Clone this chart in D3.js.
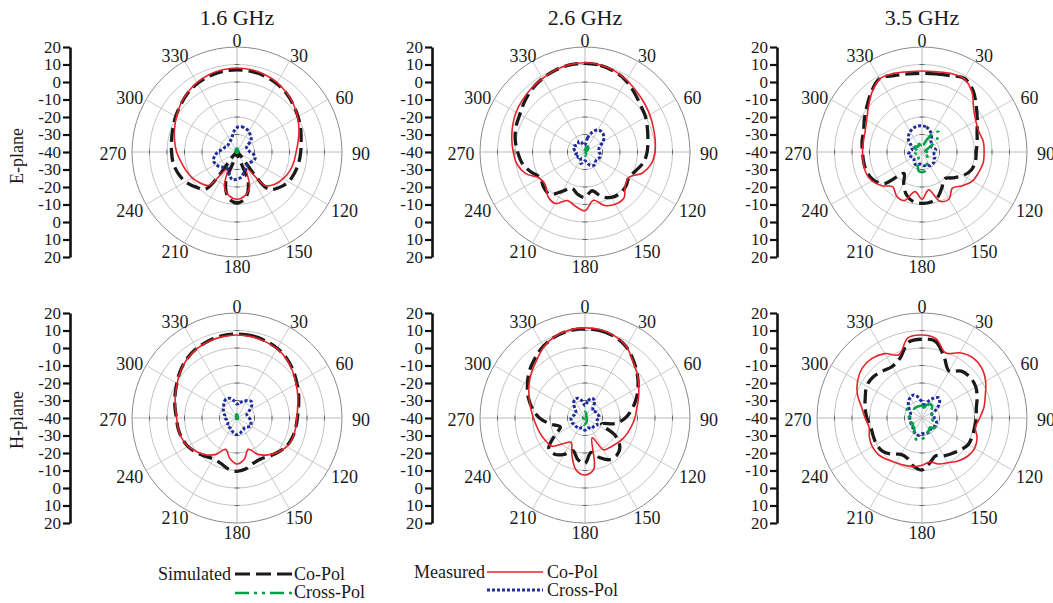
<!DOCTYPE html>
<html><head><meta charset="utf-8">
<script src="https://cdn.jsdelivr.net/npm/d3@7"></script>
<style>
html,body{margin:0;padding:0;background:#fff;}
svg{display:block;}
text{font-family:"Liberation Serif","Times New Roman",Times,serif;fill:#1a1a1a;}
</style></head>
<body>
<svg id="chart" width="1053" height="603"></svg>
<script>
// ---------- data ----------
const angles = [0,10,20,30,40,50,60,70,80,90,100,110,120,130,140,150,160,170,180,190,200,210,220,230,240,250,260,270,280,290,300,310,320,330,340,350];
const angleLabels = [0,30,60,90,120,150,180,210,240,270,300,330];
const tickLabels = ["20","10","0","-10","-20","-30","-40","-30","-20","-10","0","10","20"];
const freqTitles = ["1.6 GHz","2.6 GHz","3.5 GHz"];
const planeNames = ["E-plane","H-plane"];
const seriesNames = ["Co-Pol","Cross-Pol"];

// E-plane 1.6 GHz
const e16SimCo   = [7,6.8,6.2,5.2,3.8,2,0.3,-1.3,-2.8,-3.6,-4.2,-5,-6,-8.5,-12.5,-40,-21,-13,-11,-13,-21,-40,-12.5,-9,-6,-4.2,-3,-2.6,-2,-1,0.5,2,3.8,5.2,6.2,6.8];
const e16MeasCo  = [8,7.7,7,5.8,4.1,2.2,0,-2.3,-4.5,-6.2,-7,-8,-9.5,-11.5,-15,-29,-19,-14.5,-13,-14.5,-19,-29,-15,-12.5,-10.5,-9,-7.5,-5.5,-3.8,-2,0,2.2,4.1,5.8,7,7.7];
const e16MeasX   = [-26,-25.3,-25.7,-26.5,-28,-29.5,-33.5,-34,-33.5,-32.5,-30,-29,-29.5,-30.5,-30.5,-29.5,-28,-25.5,-24.5,-24,-27,-29,-28.5,-27,-26,-25.7,-27,-29,-31.5,-32.5,-33.5,-33.5,-33,-32.5,-31.5,-28.5];
const e16SimX    = [-38,-38.3,-38.6,-39,-39,-39,-39,-39,-39.5,-39.5,-39.5,-39.5,-39.5,-39.5,-39.5,-39.5,-39.5,-39.5,-39.5,-39.5,-39.5,-39.5,-39.5,-39.5,-39.5,-39.5,-39.5,-39.5,-39.5,-39,-39,-39,-39,-38.6,-38.3,-38];
// E-plane 2.6 GHz
const e26SimCo   = [10.7,10.3,9,7,4,1.5,0,-2,-3.5,-4.5,-6,-9,-11,-9.5,-9,-10,-13,-17.5,-14,-15.5,-18,-14,-8.5,-9,-10.5,-7,-3.5,-1.5,0.5,2,3,5,7,8.5,9.7,10.5];
const e26MeasCo  = [11,10.5,9.3,7.5,5.5,4,2.7,1.5,0.7,0,-1.5,-5,-11,-10,-5.5,-5.5,-7.5,-12,-6.5,-8.5,-10.5,-6,-7,-10.5,-10,-4,-0.5,1,2.5,4,5.5,6.5,7.5,8.5,9.8,10.7];
const e26MeasX   = [-36,-32,-28,-25.5,-25,-26,-28,-31,-32,-32,-31,-31,-32,-32,-31,-31,-32,-34,-35,-34,-33,-35,-36,-35,-35,-34,-35,-35,-34,-33,-33,-34,-34,-33,-34,-36];
const e26SimX    = [-39,-38,-37,-36.5,-37,-38,-39,-39.5,-39.5,-39.5,-39.5,-39.5,-39.5,-39.5,-39.5,-39,-38.5,-38,-38,-38.5,-39,-39.5,-39.5,-39.5,-39.5,-39.5,-39.5,-39.5,-39.5,-39.5,-39.5,-39.5,-39.5,-39.5,-39.5,-39.5];
// E-plane 3.5 GHz
const e35SimCo   = [5,5.3,6.5,8.5,5.5,0.5,-3.5,-6.5,-8,-9,-9,-10,-13,-17,-20,-17,-13,-11,-10.7,-11.2,-14,-19,-24,-12,-8,-6.5,-6.2,-6,-5.2,-4.5,-2,1,5,8.5,6.5,5.3];
const e35MeasCo  = [6.3,6.6,7.8,8.3,4.5,-1.5,-4.5,-5.5,-4.5,-4.5,-4.5,-5.6,-6.8,-10,-13,-9,-10,-18,-13,-17,-10.5,-11,-14,-10,-7,-5.8,-6,-6,-6,-5.4,-3.5,0,4.5,8.3,7.8,6.6];
const e35MeasX   = [-25,-25.5,-27,-29,-32,-33,-34,-33,-32,-33,-33,-32,-32,-31,-31,-31,-32,-32,-33,-33,-32,-32,-33,-34,-34,-33,-32,-33,-34,-34,-33,-30,-28,-26.5,-25.5,-25];
const e35SimX    = [-36,-36,-33,-28,-25,-29,-36,-38,-38,-37,-36,-36,-37,-36,-35,-34,-32,-29,-28.5,-29,-33,-36,-37,-38,-38,-37,-36,-37,-38,-37,-35,-35,-36,-36,-35,-36];
// H-plane 1.6 GHz
const h16SimCo   = [8,7.8,7,6,4.3,2,-0.5,-2.5,-4.3,-5.5,-6,-6.5,-7.5,-9.5,-11.5,-13,-12.5,-10.5,-9.5,-10.5,-12.5,-13,-11.5,-9.5,-7.6,-6.5,-5.8,-5.4,-4,-2.3,-0.3,2.2,4.4,6,7,7.8];
const h16MeasCo  = [7.4,7.2,6.6,5.7,4,1.5,-1,-3,-4.8,-5.8,-6,-6.2,-7.2,-9.5,-12.5,-16,-21,-16,-13.7,-16.5,-21,-16,-12.5,-10,-7.6,-6.4,-5.8,-5.5,-4.2,-2.5,-0.5,2,4.2,5.8,6.7,7.2];
const h16MeasX   = [-32,-31,-30,-28.5,-27.5,-29,-32,-34,-34,-33,-32,-31.5,-31,-32,-33,-32.5,-32,-31,-30.5,-31,-32,-33,-33,-33,-34,-34,-34,-33,-33,-32,-31,-30,-28.5,-27.5,-28,-30];
const h16SimX    = [-38,-38.5,-39,-39.5,-39.5,-39.5,-39.5,-39.5,-39.5,-39.5,-39.5,-39.5,-39.5,-39.5,-39.5,-39.5,-39.5,-39.5,-39.5,-39.5,-39.5,-39.5,-39.5,-39.5,-39.5,-39.5,-39.5,-39.5,-39.5,-39.5,-39.5,-39.5,-39.5,-39,-38.5,-38];
// H-plane 2.6 GHz
const h26SimCo   = [11,10.7,9.5,7,3,-1,-5,-9,-13,-17,-22,-30,-20,-14,-12,-12.5,-16,-20,-14,-16,-20,-16,-13,-13,-20,-25,-20,-14,-9.5,-5.5,-2,1.5,4.5,7.5,9.5,10.7];
const h26MeasCo  = [11.5,11.2,9.8,7.2,2.5,-1,-4.5,-7.5,-10,-11.5,-13,-14.3,-15.5,-17,-18,-19,-28,-10.5,-7.4,-10,-18,-24,-21,-15,-14,-13,-12,-10.5,-8.5,-6,-3,0,3,7,9.7,11];
const h26MeasX   = [-33,-30,-28,-29,-33,-34,-33,-33,-32,-32,-33,-33,-32,-33,-33,-33,-34,-34,-33,-34,-34,-33,-33,-33,-33,-32,-32,-32,-33,-34,-34,-33,-30,-28,-28,-30];
const h26SimX    = [-36.5,-37,-38,-38.5,-39,-39,-39,-39,-39,-39,-39,-39,-39,-39,-38.5,-38,-37.5,-37,-36.5,-36,-37,-38,-38.5,-39,-39,-39,-39,-39,-39,-39,-39,-39,-39,-38.5,-37.5,-37];
// H-plane 3.5 GHz
const h35SimCo   = [5,4.5,-3,-9,-5,-4,-4.5,-6.5,-8.5,-9,-9.5,-9.5,-9.5,-11.5,-13.5,-15,-17,-14,-10.3,-12,-15.5,-16,-13,-10.5,-10,-10.3,-10.3,-8.5,-7,-5.5,-3.5,-3.5,-5,-6,-3.5,4];
const h35MeasCo  = [7.4,6,-0.5,3,5,4.5,2,-1.5,-4,-7,-9,-6.5,-5.3,-6,-8,-10.5,-12,-14.5,-13,-11.8,-11.2,-10.5,-9,-7.5,-7.2,-8,-9.3,-7.5,-5,-0.7,2.5,4.5,4.5,2.5,-1.5,6.5];
const h35MeasX   = [-31,-33,-30,-27,-25,-27,-31,-34,-33,-33,-32,-31,-31,-32,-32,-31,-31,-31,-31,-30,-30,-31,-32,-33,-33,-33,-33,-33,-33,-33,-32,-30,-28,-26.5,-26,-28];
const h35SimX    = [-33,-34,-32,-31,-31,-33,-35,-34,-33,-33,-34,-32,-31,-31,-33,-32,-31,-29,-28,-27,-28,-31,-33,-33,-34,-33,-33,-34,-32,-31,-30,-31,-33,-33,-33,-33];

// ---------- layout ----------
const colCx = [237, 585, 922];
const rowCy = [152, 418];
const axisX = [70, 432, 777];
const R = 105;

const panels = [
  [e16SimCo, e16SimX, e16MeasCo, e16MeasX],
  [e26SimCo, e26SimX, e26MeasCo, e26MeasX],
  [e35SimCo, e35SimX, e35MeasCo, e35MeasX],
  [h16SimCo, h16SimX, h16MeasCo, h16MeasX],
  [h26SimCo, h26SimX, h26MeasCo, h26MeasX],
  [h35SimCo, h35SimX, h35MeasCo, h35MeasX]
];

const styles = {
  simCo:   {stroke:"#1a1a1a", width:3.3, dash:"14,6"},
  simX:    {stroke:"#00a14b", width:2.6, dash:"14,5,3,5,3,5"},
  measCo:  {stroke:"#e5232b", width:1.6, dash:null},
  measX:   {stroke:"#1f2d9b", width:3,   dash:"3,2"}
};

const svg = d3.select("#chart");
const rScale = d3.scaleLinear().domain([-40, 20]).range([0, R]).clamp(true);
const ringVals = [-30,-20,-10,0,10,20];
const spokeAngles = d3.range(0, 360, 30);

const lineGen = d3.lineRadial()
  .angle(d => d[0] * Math.PI / 180)
  .radius(d => rScale(d[1]))
  .curve(d3.curveCatmullRomClosed.alpha(0.5));

function drawPanel(row, col, data) {
  const cx = colCx[col], cy = rowCy[row];
  const g = svg.append("g").attr("transform", `translate(${cx},${cy})`);
  g.selectAll("circle.ring").data(ringVals).join("circle")
    .attr("r", d => rScale(d)).attr("fill", "none")
    .attr("stroke", d => d === 20 ? "#8a8a8a" : "#b4b4b4")
    .attr("stroke-width", d => d === 20 ? 1 : 0.8);
  g.selectAll("line.spoke").data(spokeAngles).join("line")
    .attr("x1", 0).attr("y1", 0)
    .attr("x2", d => R * Math.sin(d * Math.PI / 180))
    .attr("y2", d => -R * Math.cos(d * Math.PI / 180))
    .attr("stroke", d => d % 90 === 0 ? "#a8a8a8" : "#bdbdbd")
    .attr("stroke-width", 0.8);
  const tk = [];
  [0, 90, 180, 270].forEach(a => ringVals.slice(0, 5).forEach(v => tk.push([a, v])));
  g.selectAll("line.tk").data(tk).join("line")
    .each(function(d) {
      const a = d[0] * Math.PI / 180, r = rScale(d[1]);
      const x = r * Math.sin(a), y = -r * Math.cos(a);
      const px = Math.cos(a) * 2.5, py = Math.sin(a) * 2.5;
      d3.select(this).attr("x1", x - px).attr("y1", y - py).attr("x2", x + px).attr("y2", y + py);
    })
    .attr("stroke", "#555").attr("stroke-width", 0.8);
  g.selectAll("text.al").data(angleLabels).join("text")
    .attr("x", d => 124 * Math.sin(d * Math.PI / 180))
    .attr("y", d => -113 * Math.cos(d * Math.PI / 180) + 2)
    .attr("text-anchor", "middle").attr("dominant-baseline", "central")
    .attr("font-size", 18).text(d => d);
  const [simCo, simX, measCo, measX] = data;
  const order = [[simCo, styles.simCo], [measCo, styles.measCo], [measX, styles.measX], [simX, styles.simX]];
  order.forEach(([vals, st]) => {
    const pts = angles.map((a, i) => [a, vals[i]]);
    g.append("path").attr("d", lineGen(pts))
      .attr("fill", "none").attr("stroke", st.stroke)
      .attr("stroke-width", st.width)
      .attr("stroke-dasharray", st.dash)
      .attr("stroke-linejoin", "round");
  });
  const yS = d3.scaleLinear().domain([0, tickLabels.length - 1]).range([cy - R, cy + R]);
  const ax = svg.append("g").attr("transform", `translate(${axisX[col]},0)`)
    .call(d3.axisLeft(yS).tickValues(d3.range(tickLabels.length))
      .tickFormat(i => tickLabels[i]).tickSize(7).tickSizeOuter(0).tickPadding(2));
  ax.select(".domain").attr("stroke", "#111").attr("stroke-width", 2.6);
  ax.selectAll(".tick line").attr("stroke", "#111").attr("stroke-width", 2.2);
  ax.selectAll(".tick text").attr("font-size", 17)
    .attr("font-family", '"Liberation Serif","Times New Roman",serif').attr("fill", "#1a1a1a");
}

panels.forEach((p, i) => drawPanel(Math.floor(i / 3), i % 3, p));

svg.selectAll("text.title").data(freqTitles).join("text")
  .attr("x", (d, i) => colCx[i]).attr("y", 25)
  .attr("text-anchor", "middle").attr("font-size", 22).text(d => d);

svg.selectAll("text.plane").data(planeNames).join("text")
  .attr("transform", (d, i) => `translate(23,${[156, 420][i]}) rotate(-90)`)
  .attr("text-anchor", "middle").attr("font-size", 18).text(d => d);

const lg = svg.append("g");
function legendLine(x1, x2, y, st) {
  lg.append("line").attr("x1", x1).attr("x2", x2).attr("y1", y).attr("y2", y)
    .attr("stroke", st.stroke).attr("stroke-width", st.width).attr("stroke-dasharray", st.dash);
}
function legendText(x, y, t, anchor) {
  lg.append("text").attr("x", x).attr("y", y).attr("font-size", 18)
    .attr("text-anchor", anchor || "start").text(t);
}
legendText(231, 580, "Simulated", "end");
legendLine(235, 292, 574, {stroke:styles.simCo.stroke, width:3, dash:"15,6"});
legendText(294, 580, seriesNames[0]);
legendLine(235, 292, 593, styles.simX);
legendText(294, 598, seriesNames[1]);

legendText(485, 578, "Measured", "end");
legendLine(487, 543, 572, styles.measCo);
legendText(547, 578, seriesNames[0]);
legendLine(487, 543, 590, styles.measX);
legendText(547, 596, seriesNames[1]);
</script>
</body></html>
